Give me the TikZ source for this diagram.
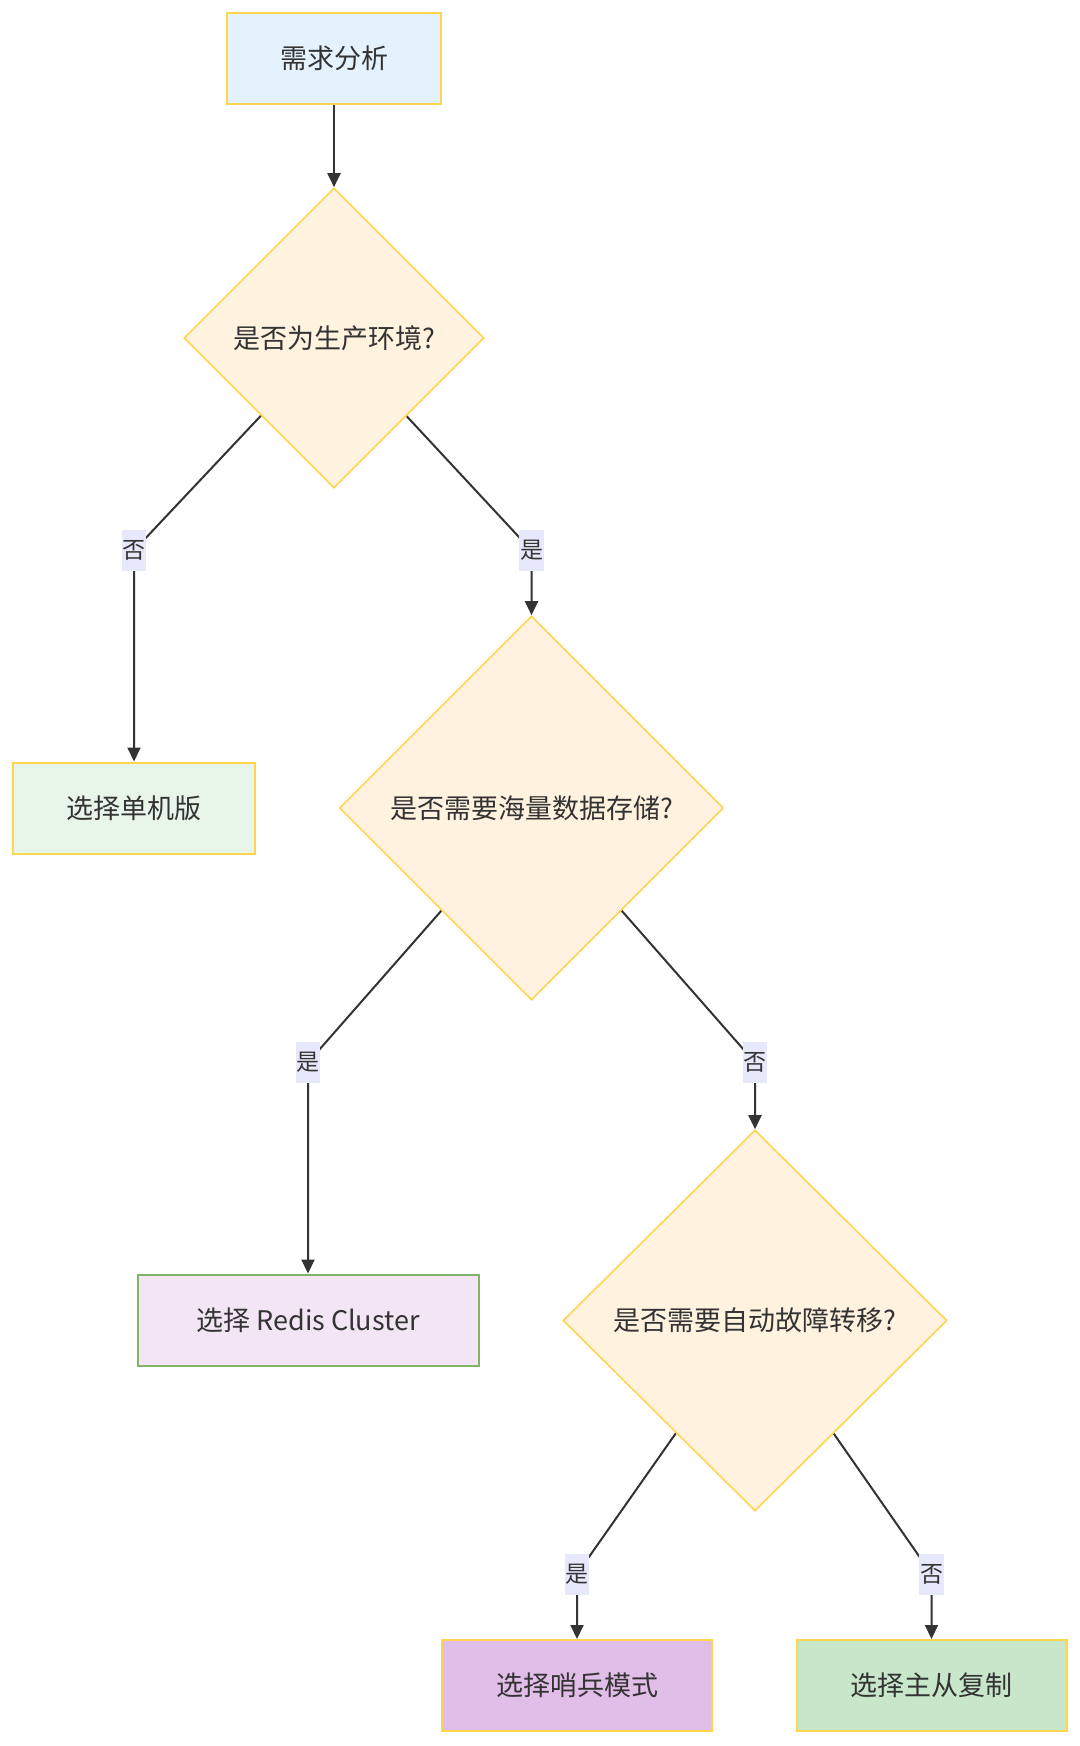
\documentclass[tikz,border=0pt]{standalone}
\usepackage{fontspec}
\setmainfont{Noto Sans CJK SC}
\usetikzlibrary{shapes.geometric,arrows.meta,backgrounds}

\definecolor{ink}{HTML}{333333}
\definecolor{edgeyellow}{HTML}{FFD54F}
\definecolor{edgegreen}{HTML}{82B366}
\definecolor{reqblue}{HTML}{E3F2FD}
\definecolor{askorange}{HTML}{FFF3E0}
\definecolor{singlegreen}{HTML}{E8F5E9}
\definecolor{clusterpink}{HTML}{F3E5F5}
\definecolor{sentinelpurple}{HTML}{E1BEE7}
\definecolor{replicagreen}{HTML}{C8E6C9}
\definecolor{yesnobg}{HTML}{E8E8FC}

\begin{document}
\begin{tikzpicture}[x=0.5pt,y=-0.5pt,
    box/.style={rectangle,draw=edgeyellow,line width=1pt,inner sep=0pt,
      minimum height=45.5pt,text=ink,font=\fontsize{13.5}{16}\selectfont},
    ask/.style={diamond,aspect=1,draw=edgeyellow,fill=askorange,line width=0.8pt,
      inner sep=0pt,text=ink,font=\fontsize{13.5}{16}\selectfont},
    yesno/.style={fill=yesnobg,inner xsep=0.4pt,inner ysep=0pt,minimum height=20.5pt,
      text=ink,font=\fontsize{11.5}{13}\selectfont},
    flow/.style={draw=ink,line width=1pt,-{Triangle[length=7pt,width=6.5pt]}}]
  \useasboundingbox (0,0) rectangle (1080,1746);

  % nodes
  \node[box,fill=reqblue,minimum width=107pt] (need) at (334,58.5) {需求分析};
  \node[ask,minimum width=150pt,minimum height=150pt] (prod) at (334,338) {是否为生产环境?};
  \node[box,fill=singlegreen,minimum width=121pt] (single) at (134,808) {选择单机版};
  \node[ask,minimum width=192pt,minimum height=192pt] (mass) at (531.5,808) {是否需要海量数据存储?};
  \node[box,fill=clusterpink,draw=edgegreen,minimum width=170.5pt] (cluster) at (308,1320) {选择 Redis Cluster};
  \node[ask,minimum width=192pt,minimum height=190.5pt] (failover) at (755,1320.5) {是否需要自动故障转移?};
  \node[box,fill=sentinelpurple,minimum width=135pt] (sentinel) at (577,1685.5) {选择哨兵模式};
  \node[box,fill=replicagreen,minimum width=135pt] (replica) at (931.5,1685.5) {选择主从复制};

  % edge labels
  \node[yesno] (prodno) at (134,550.5) {否};
  \node[yesno] (prodyes) at (531.5,550.5) {是};
  \node[yesno] (massyes) at (308,1062.5) {是};
  \node[yesno] (massno) at (755,1062.5) {否};
  \node[yesno] (failyes) at (577,1574) {是};
  \node[yesno] (failno) at (931.5,1574) {否};

  % connectors
  \begin{scope}[on background layer]
    \fill[white] (0,0) rectangle (1080,1746);
    \draw[flow] (need) -- (prod);
    \draw[flow] (prod) -- (prodno.center) -- (single);
    \draw[flow] (prod) -- (prodyes.center) -- (mass);
    \draw[flow] (mass) -- (massyes.center) -- (cluster);
    \draw[flow] (mass) -- (massno.center) -- (failover);
    \draw[flow] (failover) -- (failyes.center) -- (sentinel);
    \draw[flow] (failover) -- (failno.center) -- (replica);
  \end{scope}
\end{tikzpicture}
\end{document}
